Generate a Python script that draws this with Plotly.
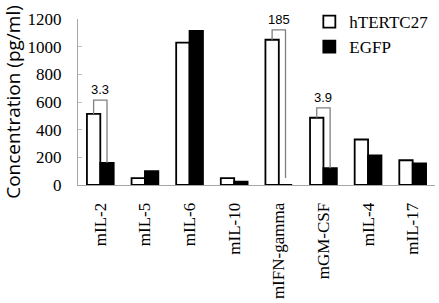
import plotly.graph_objects as go

categories = ["mIL-2", "mIL-5", "mIL-6", "mIL-10", "mIFN-gamma", "mGM-CSF", "mIL-4", "mIL-17"]
htertc27 = [514, 50, 1029, 50, 1050, 486, 329, 179]
egfp = [160, 100, 1114, 25, 0, 121, 214, 157]
y_ticks = [0, 200, 400, 600, 800, 1000, 1200]

# fold-change brackets: category index, label, bracket top, end of right leg
bracket_idx = [0, 4, 5]
bracket_labels = ["3.3", "185", "3.9"]
bracket_tops = [614, 1121, 557]
bracket_right_end = [160, 50, 121]

serif = "Liberation Serif"
sans = "Liberation Sans"

fig = go.Figure()
fig.add_trace(go.Bar(x=categories, y=htertc27, name="hTERTC27",
                     marker=dict(color="white", line=dict(color="black", width=1.8))))
fig.add_trace(go.Bar(x=categories, y=egfp, name="EGFP",
                     marker=dict(color="black", line=dict(color="black", width=1.8))))

off = 0.15
for i, lab, top, rend in zip(bracket_idx, bracket_labels, bracket_tops, bracket_right_end):
    xl = i - off
    xr = i + off
    fig.add_shape(type="path",
                  path=f"M {xl} {htertc27[i]} L {xl} {top} L {xr} {top} L {xr} {rend}",
                  xref="x", yref="y", line=dict(color="#808080", width=1.3))
    fig.add_annotation(x=i, y=top, text=lab, showarrow=False, yanchor="bottom",
                       yshift=1, font=dict(family=sans, size=13, color="black"))

fig.update_layout(
    width=439, height=303,
    margin=dict(l=78, r=4, t=17, b=118),
    paper_bgcolor="white", plot_bgcolor="white",
    barmode="group", bargap=0.4, bargroupgap=0,
    showlegend=True,
    legend=dict(x=0.648, y=1.09, xanchor="left", yanchor="top",
                font=dict(family=serif, size=17, color="black"),
                bgcolor="rgba(0,0,0,0)", itemwidth=30, tracegroupgap=0),
    xaxis=dict(tickangle=-90, tickfont=dict(family=serif, size=17, color="black"),
               showline=True, linecolor="#a6a6a6", linewidth=1, ticks="",
               showgrid=False, ticklabelstandoff=10, automargin=False),
    yaxis=dict(range=[0, 1200], tickvals=y_ticks,
               tickfont=dict(family=serif, size=17, color="black"),
               showline=True, linecolor="#a6a6a6", linewidth=1,
               ticks="inside", ticklen=4, tickcolor="#c0c0c0",
               showgrid=False, zeroline=False, ticklabelstandoff=12,
               automargin=False,
               title=dict(text="Concentration (pg/ml)",
                          font=dict(family="Open Sans", size=19, color="black"),
                          standoff=4)),
)

fig.write_html("out.html", config={"displayModeBar": False},
               post_script="document.body.style.margin='0';document.body.style.padding='0';")
